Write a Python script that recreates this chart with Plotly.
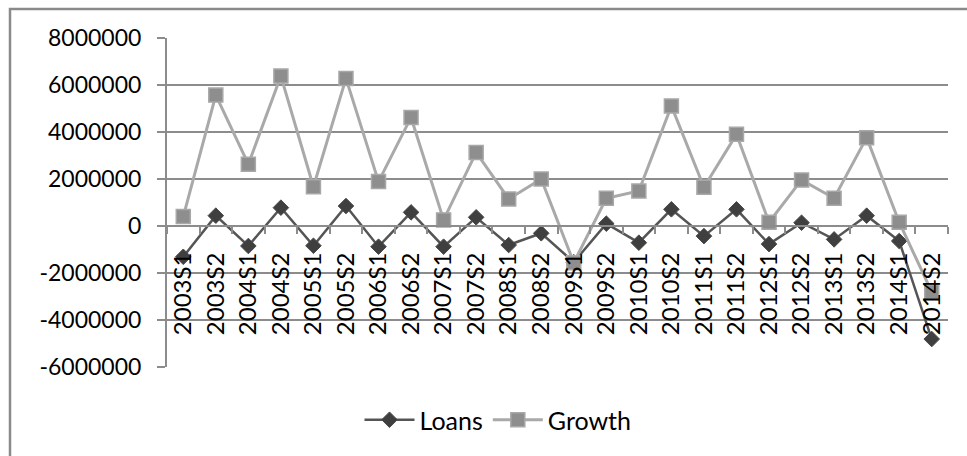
import plotly.graph_objects as go

# Half-year periods
periods = ["2003S1", "2003S2", "2004S1", "2004S2", "2005S1", "2005S2",
           "2006S1", "2006S2", "2007S1", "2007S2", "2008S1", "2008S2",
           "2009S1", "2009S2", "2010S1", "2010S2", "2011S1", "2011S2",
           "2012S1", "2012S2", "2013S1", "2013S2", "2014S1", "2014S2"]

loans = [-1310000, 440000, -850000, 780000, -840000, 850000,
         -880000, 580000, -880000, 370000, -810000, -310000,
         -1540000, 100000, -710000, 710000, -430000, 710000,
         -770000, 140000, -570000, 440000, -640000, -4810000]

growth = [400000, 5570000, 2630000, 6380000, 1670000, 6280000,
          1890000, 4620000, 260000, 3130000, 1150000, 2000000,
          -1560000, 1180000, 1490000, 5110000, 1650000, 3900000,
          160000, 1960000, 1180000, 3760000, 160000, -2800000]

y_ticks = [-6000000, -4000000, -2000000, 0, 2000000, 4000000, 6000000, 8000000]
y_tick_text = ["-6000000", "-4000000", "-2000000", "0",
               "2000000", "4000000", "6000000", "8000000"]

W, H = 967, 456
ML, MR, MT, MB = 167, 19, 38, 89
PW, PH = W - ML - MR, H - MT - MB
Y_MIN, Y_MAX = -6000000, 8000000


def px_x(px):
    return (px - ML) / PW


def px_y(py):
    return (H - MB - py) / PH


FONT = "Lato, 'Open Sans', sans-serif"
GRID = "#8c8c8c"

fig = go.Figure()
fig.add_trace(go.Scatter(
    x=periods, y=loans, name="Loans", mode="lines+markers",
    line=dict(color="#555555", width=2.5),
    marker=dict(symbol="diamond", size=12, color="#3f3f3f",
                line=dict(color="#4a4a4a", width=1)),
))
fig.add_trace(go.Scatter(
    x=periods, y=growth, name="Growth", mode="lines+markers",
    line=dict(color="#a9a9a9", width=3),
    marker=dict(symbol="square", size=14, color="#8e8e8e",
                line=dict(color="#a8a8a8", width=1.5)),
))

zero_pos = (0 - Y_MIN) / (Y_MAX - Y_MIN)

fig.update_layout(
    width=W, height=H,
    margin=dict(l=ML, r=MR, t=MT, b=MB, pad=0),
    paper_bgcolor="white", plot_bgcolor="white",
    font=dict(family=FONT, size=23, color="#000000"),
    showlegend=True,
    legend=dict(orientation="h", x=px_x(498), y=px_y(420),
                xanchor="center", yanchor="middle",
                itemwidth=50, font=dict(size=25),
                bgcolor="rgba(0,0,0,0)"),
    xaxis=dict(
        type="category", range=[-0.5, len(periods) - 0.5],
        anchor="free", position=zero_pos,
        showline=True, linecolor=GRID, linewidth=2,
        ticks="outside", ticklen=7, tickcolor=GRID, tickwidth=1.5,
        tickson="boundaries", tickangle=-90,
        ticklabelstandoff=16,
        showgrid=False, zeroline=False,
        tickfont=dict(size=24),
    ),
    yaxis=dict(
        range=[Y_MIN, Y_MAX], tickvals=y_ticks, ticktext=y_tick_text,
        showline=True, linecolor=GRID, linewidth=2,
        ticks="outside", ticklen=8, tickcolor=GRID, tickwidth=2,
        showgrid=True, gridcolor=GRID, gridwidth=2,
        zeroline=False, ticklabelstandoff=11,
        tickfont=dict(size=23),
    ),
    shapes=[dict(type="rect", xref="paper", yref="paper",
                 x0=px_x(10), x1=px_x(1000), y0=px_y(480), y1=px_y(9),
                 line=dict(color="#8a8a8a", width=2.5), layer="below")],
)

fig.write_html("out.html")
